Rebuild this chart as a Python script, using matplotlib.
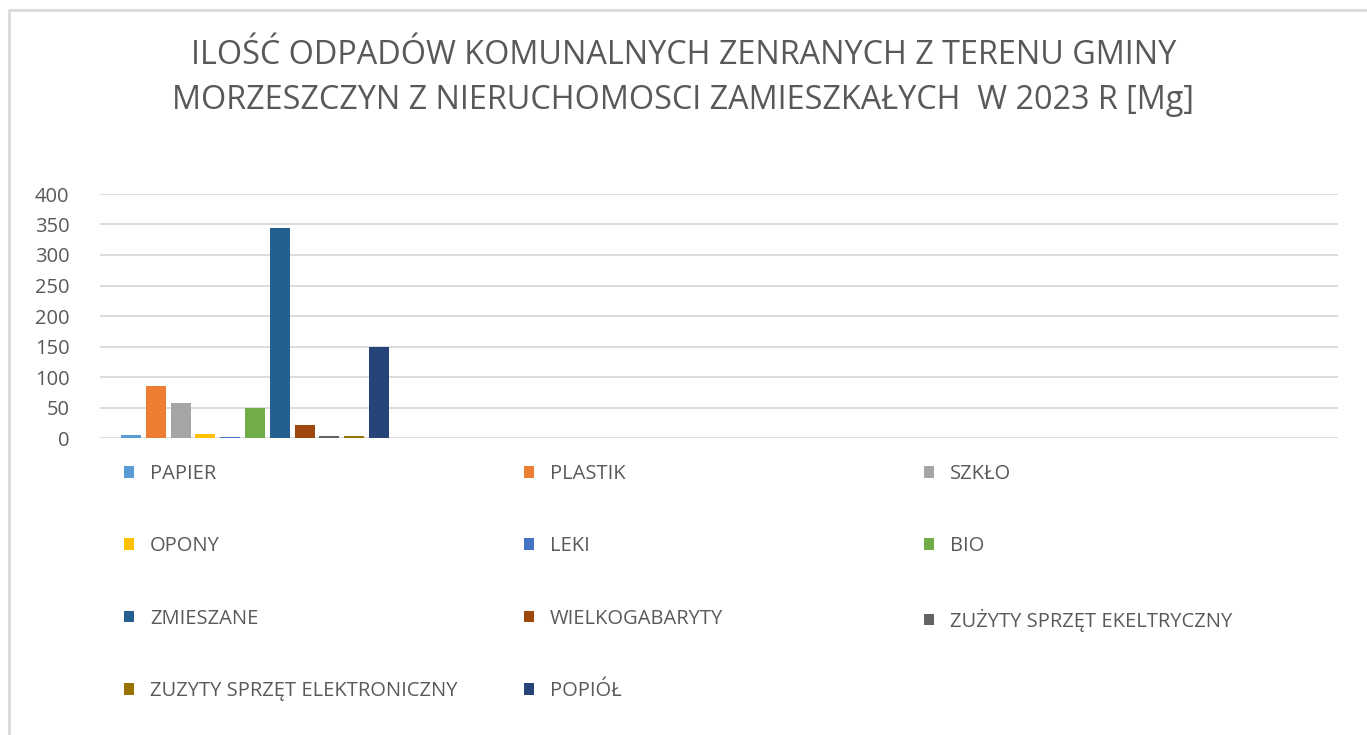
import matplotlib
matplotlib.use("Agg")
import matplotlib.pyplot as plt
from matplotlib.patches import Rectangle

plt.rcParams['font.family'] = ['Open Sans', 'DejaVu Sans']

labels = ["PAPIER", "PLASTIK", "SZKŁO", "OPONY", "LEKI", "BIO", "ZMIESZANE",
          "WIELKOGABARYTY", "ZUŻYTY SPRZĘT EKELTRYCZNY",
          "ZUZYTY SPRZĘT ELEKTRONICZNY", "POPIÓŁ"]
values = [5, 86, 57, 6, 1.5, 50, 344, 22, 3, 3, 150]
colors = ["#5b9bd5", "#ed7d31", "#a5a5a5", "#ffc000", "#4472c4", "#70ad47",
          "#255e91", "#9e480e", "#636363", "#997300", "#264478"]
yticks = [0, 50, 100, 150, 200, 250, 300, 350, 400]
title = ("ILOŚĆ ODPADÓW KOMUNALNYCH ZENRANYCH Z TERENU GMINY\n"
         "MORZESZCZYN Z NIERUCHOMOSCI ZAMIESZKAŁYCH  W 2023 R [Mg]")

txt = "#595959"
W, H = 1367, 735
fig = plt.figure(figsize=(W / 100, H / 100), dpi=100)
# chart border (only top and left visible)
fig.patches.append(Rectangle((9 / W, -0.1), 1.2, 1 - 9.5 / H + 0.1,
                             transform=fig.transFigure, fill=False,
                             edgecolor="#d9d9d9", lw=2))

ax = fig.add_axes([100 / W, 1 - 438 / H, 1238 / W, 244 / H])
handles = []
for i, (lab, v, c) in enumerate(zip(labels, values, colors)):
    b = ax.bar(i, v, width=0.8, color=c, label=lab, zorder=3)
    handles.append(b)

ax.set_xlim(-1.25, 48.67)
ax.set_ylim(0, 400)
ax.set_yticks(yticks)
ax.set_xticks([])
ax.grid(axis="y", color="#d9d9d9", lw=1.3, zorder=0)
for s in ax.spines.values():
    s.set_visible(False)
ax.tick_params(axis="y", length=0, pad=22, labelsize=14.5, labelcolor=txt)

fig.text(0.5, 1 - 78 / H, title, ha="center", va="center", fontsize=23.3,
         color=txt, linespacing=1.5)

# legend: three columns, filled row by row
for col, x0 in enumerate([124, 524, 924]):
    idx = list(range(col, len(labels), 3))
    leg = fig.legend([handles[i] for i in idx], [labels[i] for i in idx],
                     loc="upper left", bbox_to_anchor=(x0 / W, 1 - 464 / H),
                     frameon=False, fontsize=14.5, handlelength=0.5,
                     handleheight=0.5, handletextpad=0.8, labelspacing=2.6,
                     borderpad=0, borderaxespad=0)
    for t in leg.get_texts():
        t.set_color(txt)

fig.savefig("out.png", dpi=100)
